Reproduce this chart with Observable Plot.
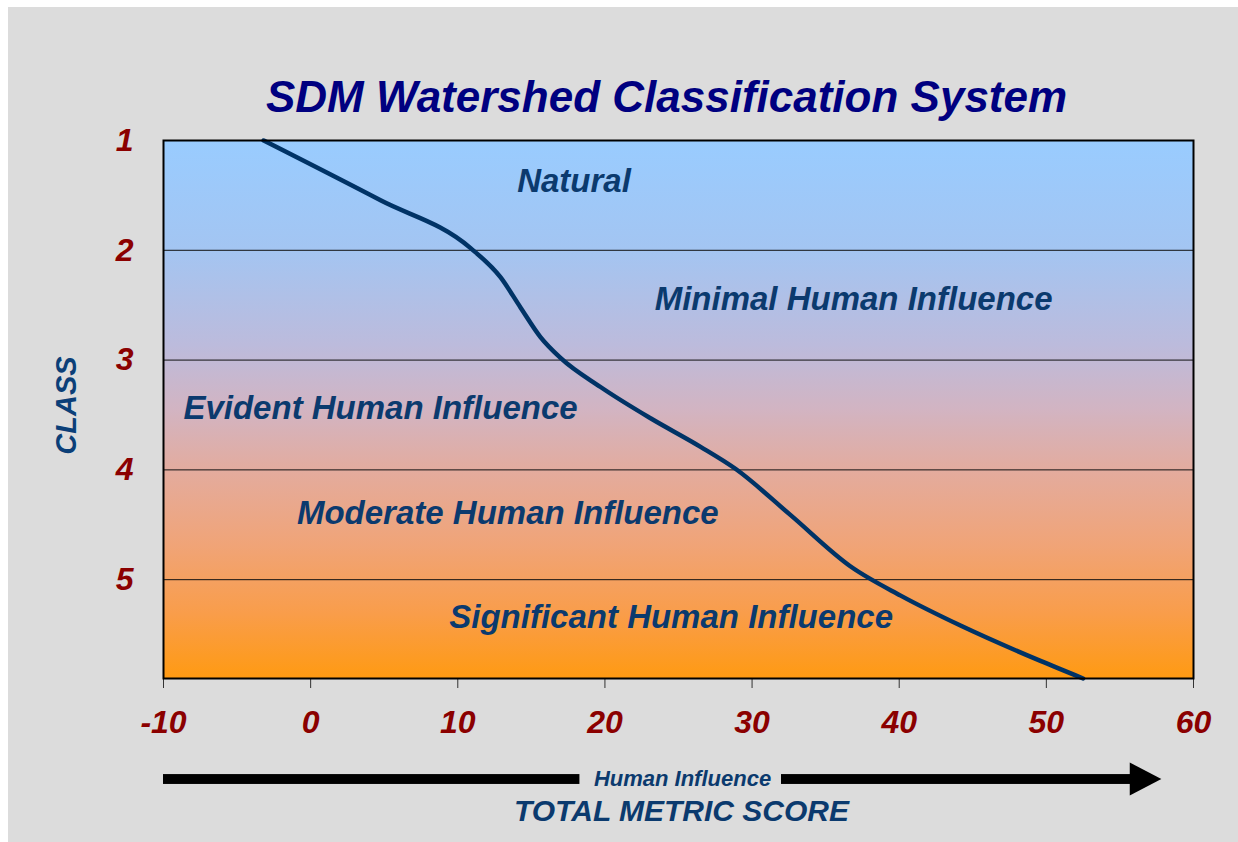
<!DOCTYPE html>
<html>
<head>
<meta charset="utf-8">
<script src="https://cdn.jsdelivr.net/npm/d3@7"></script>
<script src="https://cdn.jsdelivr.net/npm/@observablehq/plot@0.6"></script>
<style>
  html, body { margin: 0; padding: 0; background: #ffffff; }
  #chart { position: absolute; left: 8px; top: 7px; }
</style>
</head>
<body>
<div id="chart"></div>
<script>
// ---- data ----
const xTicks = [-10, 0, 10, 20, 30, 40, 50, 60];
const yTicks = [1, 2, 3, 4, 5];
const classBoundaries = [2, 3, 4, 5];
const curveScore = [-3.2, 4.75, 10.87, 12.9, 14.26, 15.62, 16.98, 19.7, 23.1, 26.5, 28.87, 32.6, 36.7, 40.1, 44.2, 49.6, 52.5];
const curveClass = [1.0, 1.545, 1.98, 2.245, 2.52, 2.79, 2.98, 3.245, 3.53, 3.79, 3.99, 4.41, 4.88, 5.145, 5.42, 5.74, 5.9];
const regionNames = ["Natural", "Minimal Human Influence", "Evident Human Influence", "Moderate Human Influence", "Significant Human Influence"];
const regionScore = [17.9, 36.9, 4.75, 13.4, 24.5];
const regionClass = [1.37, 2.45, 3.44, 4.4, 5.34];
const titleText = "SDM Watershed Classification System";
const yLabel = "CLASS";
const xLabel = "TOTAL METRIC SCORE";
const arrowLabel = "Human Influence";
// arrow under the axis (score units, class units)
const arrowBars = [{x1: -10, x2: 18.3}, {x1: 32.0, x2: 55.8}];
const arrowHead = [{x: 55.7, y1: 6.67, y2: 6.97}, {x: 57.85, y1: 6.82, y2: 6.82}];

const curve = curveScore.map((x, i) => ({x, y: curveClass[i]}));
const regions = regionNames.map((name, i) => ({name, x: regionScore[i], y: regionClass[i]}));

const font = "'Liberation Sans', Arial, sans-serif";
const navy = "#0b3a6e";
const red = "#8b0000";

const chart = Plot.plot({
  width: 1230,
  height: 835,
  marginLeft: 155,
  marginRight: 45,
  marginTop: 133,
  marginBottom: 164,
  style: {background: "#dcdcdc", fontFamily: font, overflow: "visible"},
  x: {domain: [-10, 60]},
  y: {domain: [1, 5.9], reverse: true},
  marks: [
    Plot.frame({fill: "url(#bgGrad)", stroke: "none"}),
    Plot.ruleY(classBoundaries, {stroke: "#111", strokeWidth: 1}),
    Plot.line(curve, {x: "x", y: "y", curve: "monotone-x", stroke: "#003366", strokeWidth: 4.5}),
    Plot.text(regions, {x: "x", y: "y", text: "name", fontSize: 33, fontWeight: "bold", fontStyle: "italic", fill: navy}),
    Plot.axisX(xTicks, {tickSize: 10, stroke: "#333", tickPadding: 22, tickFormat: d => String(d), fontSize: 32, fontWeight: "bold", fontStyle: "italic", fill: red, label: null}),
    Plot.axisY(yTicks, {tickSize: 0, tickPadding: 30, tickFormat: d => String(d), fontSize: 32, fontWeight: "bold", fontStyle: "italic", fill: red, label: null}),
    Plot.text([titleText], {frameAnchor: "top", dx: -12, dy: -43, fontSize: 44, fontWeight: "bold", fontStyle: "italic", fill: "#000080", lineAnchor: "middle"}),
    Plot.text([yLabel], {frameAnchor: "left", dx: -97, dy: -4, rotate: -90, textAnchor: "middle", fontSize: 29, fontWeight: "bold", fontStyle: "italic", fill: "#0b3f78"}),
    Plot.text([xLabel], {frameAnchor: "bottom", dx: 3, dy: 142, fontSize: 30, fontWeight: "bold", fontStyle: "italic", fill: navy}),
    Plot.text([arrowLabel], {frameAnchor: "bottom", dx: 4, dy: 107, fontSize: 22, fontWeight: "bold", fontStyle: "italic", fill: navy}),
    Plot.rect(arrowBars, {x1: "x1", x2: "x2", y1: 6.775, y2: 6.865, fill: "#000", clip: false}),
    Plot.areaY(arrowHead, {x: "x", y1: "y1", y2: "y2", fill: "#000", clip: false}),
    Plot.frame({stroke: "#000", strokeWidth: 2})
  ]
});

const svg = chart.tagName.toLowerCase() === "svg" ? chart : chart.querySelector("svg");
const defs = d3.select(svg).insert("defs", ":first-child");
const grad = defs.append("linearGradient").attr("id", "bgGrad").attr("x1", 0).attr("y1", 0).attr("x2", 0).attr("y2", 1);
[["0%", "#99ccff"], ["20%", "#a3c5f2"], ["38%", "#bcbbdc"], ["50%", "#d2b4c2"], ["62%", "#e4ab9c"], ["75%", "#f0a478"], ["88%", "#f99d4a"], ["100%", "#ff9a12"]]
  .forEach(([o, c]) => grad.append("stop").attr("offset", o).attr("stop-color", c));

document.getElementById("chart").appendChild(chart);
</script>
</body>
</html>
